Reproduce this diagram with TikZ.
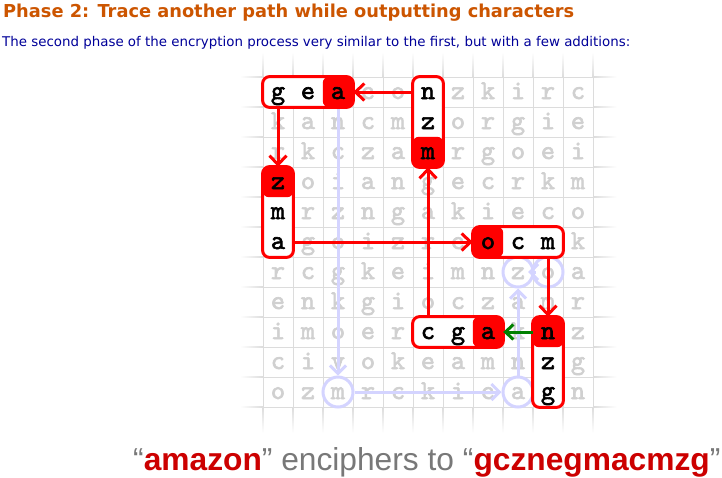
\documentclass[tikz,border=0pt]{standalone}
\usepackage{fontspec}
\setmainfont{DejaVu Sans}
\newfontfamily\arialfont{Liberation Sans}
\newfontfamily\courfont[FakeBold=2.2]{lmmono10-regular.otf}
\usetikzlibrary{arrows.meta,fit}
\definecolor{gridgray}{RGB}{220,220,220}
\definecolor{faint}{RGB}{208,208,208}
\definecolor{lav}{RGB}{212,212,255}
\definecolor{hired}{RGB}{255,0,0}
\definecolor{okgreen}{RGB}{0,128,0}
\definecolor{titleor}{RGB}{204,85,0}
\definecolor{subblue}{RGB}{0,0,153}
\definecolor{capred}{RGB}{204,0,0}
\definecolor{capgray}{RGB}{120,120,120}
\begin{document}
\begin{tikzpicture}[x=1pt,y=-1pt,
  cell/.style={minimum size=30pt, inner sep=0pt, text height=14pt, text depth=0pt,
    font=\courfont\bfseries\fontsize{27}{27}\selectfont, text=faint},
  cellb/.style={cell, text=black},
  boxfill/.style={fill=white, rounded corners=7pt, inner sep=0pt},
  boxline/.style={draw=hired, line width=3pt, rounded corners=7pt},
  hilite/.style={fill=hired, rounded corners=6pt},
  bcirc/.style={circle, draw=lav, line width=3pt, minimum size=30pt, inner sep=0pt},
  bline/.style={draw=lav, line width=3pt, -{Straight Barb[length=8pt,width=16pt]}},
  rarrow/.style={draw=hired, line width=3pt, -{Straight Barb[length=9pt,width=17pt]}},
  garrow/.style={draw=okgreen, line width=3pt, -{Straight Barb[length=8pt,width=15pt]}}]
\fill[white] (0,0) rectangle (722,477);
\useasboundingbox (0,0) rectangle (722,477);

% titles
\node[anchor=base west, inner sep=0pt, text=titleor] (title) at (3,17)
  {\resizebox{571pt}{!}{\bfseries Phase 2: Trace another path while outputting characters}};
\node[anchor=base west, inner sep=0pt, text=subblue] (subtitle) at (2,46)
  {\resizebox{628pt}{!}{The second phase of the encryption process very similar to the first, but with a few additions:}};

% grid
\foreach \k in {0,...,11} {
  \draw[gridgray, line width=1pt] ({263+30*\k},77) -- ({263+30*\k},407);
  \shade[top color=white, bottom color=gridgray] ({263+30*\k-0.5},52) rectangle ({263+30*\k+0.5},77);
  \shade[top color=gridgray, bottom color=white] ({263+30*\k-0.5},407) rectangle ({263+30*\k+0.5},433);
  \draw[gridgray, line width=1pt] (263,{77+30*\k}) -- (593,{77+30*\k});
  \shade[left color=white, right color=gridgray] (240,{77+30*\k-0.5}) rectangle (263,{77+30*\k+0.5});
  \shade[left color=gridgray, right color=white] (593,{77+30*\k-0.5}) rectangle (617,{77+30*\k+0.5});
}

% faint letters (- marks a boxed cell)
\foreach \row [count=\j from 0] in {
  {-,-,-,e,o,-,z,k,i,r,c},
  {k,a,n,c,m,-,o,r,g,i,e},
  {r,k,c,z,a,-,r,g,o,e,i},
  {-,o,i,a,n,g,e,c,r,k,m},
  {-,r,z,n,g,a,k,i,e,c,o},
  {-,g,o,i,z,r,e,-,-,-,k},
  {r,c,g,k,e,i,m,n,z,o,a},
  {e,n,k,g,i,o,c,z,a,m,r},
  {i,m,o,e,r,-,-,-,k,-,z},
  {c,i,v,o,k,e,a,m,n,-,g},
  {o,z,m,r,c,k,i,e,a,-,n}} {
  \foreach \ch [count=\i from 0] in \row {
    \node[cell] (c-\i-\j) at ({278+30*\i},{92+30*\j}) {\if\ch-\else\ch\fi};
  }
}

% lavender trace of phase 1
\node[bcirc] (bm) at (c-2-10) {};
\node[bcirc] (ba) at (c-8-10) {};
\node[bcirc] (bz) at (c-8-6) {};
\node[bcirc] (bo) at (c-9-6) {};
\draw[bline] (c-2-0.south) -- (bm.north);
\draw[bline] (bm.east) -- (ba.west);
\draw[bline] (ba.north) -- (bz.south);
\draw[bline, shorten >=10pt] ([xshift=4pt]bo.west) -- (bz.center);

% boxes: white fill
\node[boxfill, fit=(c-0-0)(c-2-0)] (bgea) {};
\node[boxfill, fit=(c-5-0)(c-5-2)] (bnzm) {};
\node[boxfill, fit=(c-0-3)(c-0-5)] (bzma) {};
\node[boxfill, fit=(c-7-5)(c-9-5)] (bocm) {};
\node[boxfill, fit=(c-5-8)(c-7-8)] (bcga) {};
\node[boxfill, fit=(c-9-8)(c-9-10)] (bnzg) {};

% highlighted cells
\fill[hilite] (c-2-0.north west) rectangle (c-2-0.south east);
\fill[hilite] (c-5-2.north west) rectangle (c-5-2.south east);
\fill[hilite] (c-0-3.north west) rectangle (c-0-3.south east);
\fill[hilite] (c-7-5.north west) rectangle (c-7-5.south east);
\fill[hilite] (c-7-8.north west) rectangle (c-7-8.south east);
\fill[hilite] (c-9-8.north west) rectangle (c-9-8.south east);

% boxed letters
\node[cellb] (k-0-0) at (c-0-0) {g};
\node[cellb] (k-1-0) at (c-1-0) {e};
\node[cellb] (k-2-0) at (c-2-0) {a};
\node[cellb] (k-5-0) at (c-5-0) {n};
\node[cellb] (k-5-1) at (c-5-1) {z};
\node[cellb] (k-5-2) at (c-5-2) {m};
\node[cellb] (k-0-3) at (c-0-3) {z};
\node[cellb] (k-0-4) at (c-0-4) {m};
\node[cellb] (k-0-5) at (c-0-5) {a};
\node[cellb] (k-7-5) at (c-7-5) {o};
\node[cellb] (k-8-5) at (c-8-5) {c};
\node[cellb] (k-9-5) at (c-9-5) {m};
\node[cellb] (k-5-8) at (c-5-8) {c};
\node[cellb] (k-6-8) at (c-6-8) {g};
\node[cellb] (k-7-8) at (c-7-8) {a};
\node[cellb] (k-9-8) at (c-9-8) {n};
\node[cellb] (k-9-9) at (c-9-9) {z};
\node[cellb] (k-9-10) at (c-9-10) {g};

% box borders
\foreach \b in {bgea,bnzm,bzma,bocm,bcga,bnzg}
  \draw[boxline] (\b.north west) rectangle (\b.south east);

% red path and green step
\draw[rarrow] (c-5-0.west) -- (c-2-0.east);
\draw[rarrow] (c-0-0.south) -- (c-0-3.north);
\draw[rarrow] (c-0-5.east) -- (c-7-5.west);
\draw[rarrow] (c-5-8.north) -- (c-5-2.south);
\draw[rarrow] (c-9-5.south) -- (c-9-8.north);
\draw[garrow] (c-9-8.west) -- (c-7-8.east);

% caption
\node[anchor=base west, inner sep=0pt] (caption) at (133,470)
  {\resizebox{587pt}{!}{\arialfont\textcolor{capgray}{“}\textcolor{capred}{\bfseries amazon}\textcolor{capgray}{” enciphers to “}\textcolor{capred}{\bfseries gcznegmacmzg}\textcolor{capgray}{”}}};
\end{tikzpicture}
\end{document}
